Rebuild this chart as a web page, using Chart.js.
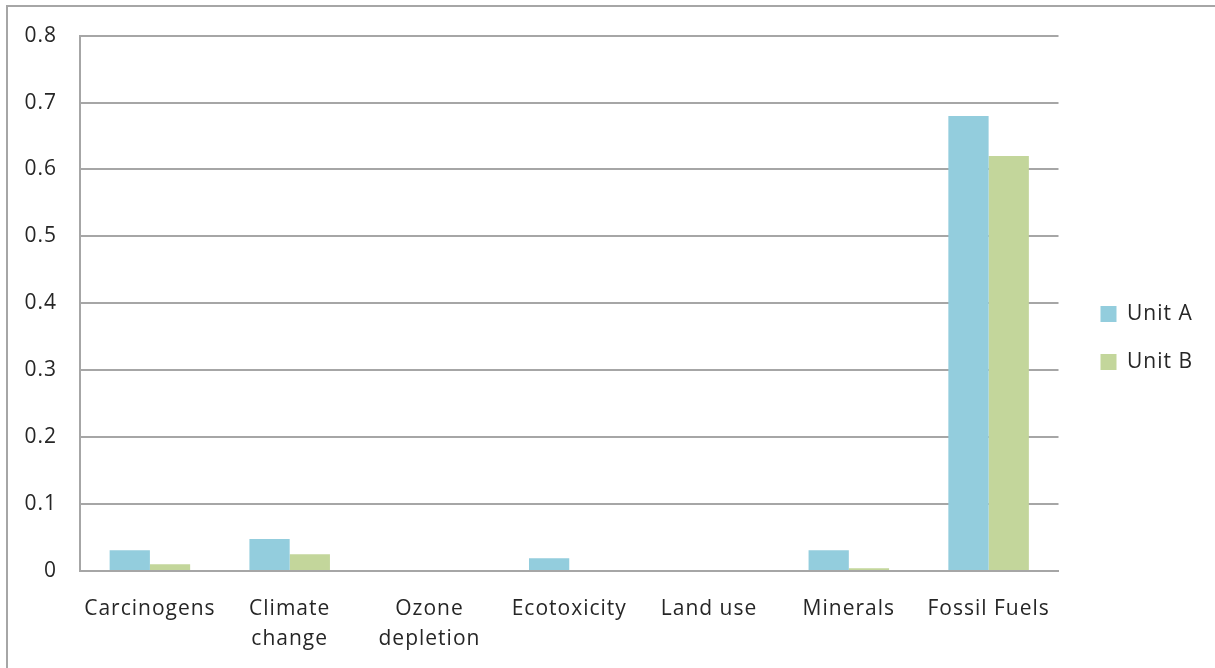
<!DOCTYPE html>
<html>
<head>
<meta charset="utf-8">
<script src="https://cdn.jsdelivr.net/npm/chart.js@4.4.1/dist/chart.umd.min.js"></script>
<style>
  html, body { margin: 0; padding: 0; overflow: hidden; background: #ffffff; width: 1215px; height: 668px; }
  canvas { position: absolute; left: 0; top: 0; }
  #frame { position: absolute; left: 6px; top: 5px; width: 1300px; height: 800px;
           border: 2px solid #a6a6a6; box-sizing: border-box; pointer-events: none; }
</style>
</head>
<body>
<canvas id="chart" width="1215" height="668"></canvas>
<div id="frame"></div>
<script>
// Impact categories along the x axis (multi-line labels as arrays)
const categories = [
  'Carcinogens',
  ['Climate', 'change'],
  ['Ozone', 'depletion'],
  'Ecotoxicity',
  'Land use',
  'Minerals',
  'Fossil Fuels'
];

// Series names and values
const seriesNames = ['Unit A', 'Unit B'];
const unitA = [0.031, 0.048, 0, 0.019, 0, 0.031, 0.68];
const unitB = [0.010, 0.025, 0, 0, 0, 0.004, 0.62];

// Y axis tick labels
const yTickLabels = ['0', '0.1', '0.2', '0.3', '0.4', '0.5', '0.6', '0.7', '0.8'];

const TEXT = '#262626';
const LINE = '#a6a6a6';

Chart.defaults.font.family = "'Open Sans', 'Noto Sans', sans-serif";
Chart.defaults.font.size = 21;
Chart.defaults.color = TEXT;

// Slightly open letter spacing for all canvas text
const spacing = {
  id: 'spacing',
  beforeLayout(chart) { chart.ctx.letterSpacing = '1px'; },
  beforeDraw(chart) { chart.ctx.letterSpacing = '1px'; }
};

// Empty spacer axes used only to reserve room around the plot area
const spacer = (pos, axis, size) => ({
  type: 'linear',
  axis: axis,
  position: pos,
  display: true,
  grid: { display: false, drawTicks: false },
  border: { display: false },
  ticks: { display: false },
  afterFit(scale) {
    if (axis === 'x') { scale.height = size; } else { scale.width = size; }
  }
});

new Chart(document.getElementById('chart'), {
  type: 'bar',
  data: {
    labels: categories,
    datasets: [
      { label: seriesNames[0], data: unitA, backgroundColor: '#93cddd', borderWidth: 0,
        categoryPercentage: 0.576, barPercentage: 1.0 },
      { label: seriesNames[1], data: unitB, backgroundColor: '#c3d69b', borderWidth: 0,
        categoryPercentage: 0.576, barPercentage: 1.0 }
    ]
  },
  options: {
    responsive: false,
    animation: false,
    devicePixelRatio: 1,
    layout: { padding: { left: 10, top: 8, right: 12, bottom: 0 } },
    plugins: {
      tooltip: { enabled: false },
      legend: {
        position: 'right',
        align: 'center',
        labels: {
          boxWidth: 16,
          boxHeight: 16,
          padding: 27,
          color: TEXT,
          font: { size: 21 }
        }
      }
    },
    scales: {
      x: {
        grid: { display: false, drawTicks: false },
        border: { display: true, color: LINE, width: 2 },
        ticks: {
          padding: 23,
          autoSkip: false,
          maxRotation: 0,
          color: TEXT,
          font: { size: 21, lineHeight: 30 / 21 }
        },
        afterFit(scale) { scale.height = 97; }
      },
      y: {
        min: 0,
        max: 0.8,
        grid: { color: LINE, lineWidth: 2, drawTicks: false },
        border: { display: true, color: LINE, width: 2 },
        ticks: {
          stepSize: 0.1,
          padding: 23,
          color: TEXT,
          font: { size: 21 },
          callback: (v) => yTickLabels[Math.round(v * 10)]
        },
        afterFit(scale) { scale.width = 70; }
      },
      gapRight: spacer('right', 'y', 15),
      gapTop: spacer('top', 'x', 25)
    }
  },
  plugins: [spacing]
});
</script>
</body>
</html>
